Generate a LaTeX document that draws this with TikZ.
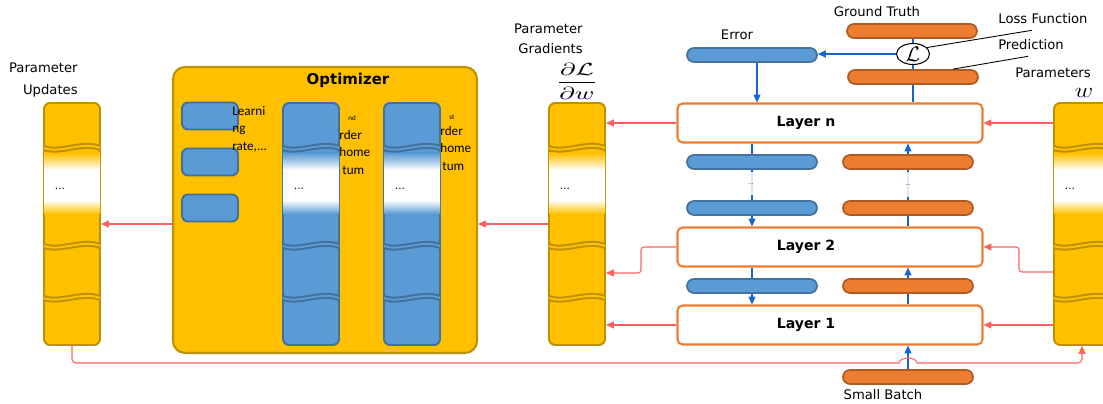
\documentclass[tikz,border=0pt]{standalone}
\usepackage{amsmath,fontspec}
\setmainfont{DejaVu Sans}
\newfontfamily\calfont{Carlito}
\usetikzlibrary{arrows.meta,shapes.geometric}
\definecolor{barfill}{RGB}{255,192,0}
\definecolor{barline}{RGB}{191,144,0}
\definecolor{bluefill}{RGB}{91,155,213}
\definecolor{blueline}{RGB}{65,113,156}
\definecolor{orangefill}{RGB}{237,125,49}
\definecolor{orangeline}{RGB}{174,90,33}
\definecolor{arrowblue}{RGB}{21,101,210}
\definecolor{arrowred}{RGB}{255,95,95}

\begin{document}
\begin{tikzpicture}[x=0.02cm,y=-0.02cm,>={Triangle[length=4.5pt,width=4pt]},
	every node/.style={font=\fontsize{7.5}{9}\selectfont},
	bar/.style={draw,rounded corners=0.12cm,line width=1.1pt,minimum width=1.12cm,minimum height=4.84cm,inner sep=0},
	pill/.style={draw,rounded corners=0.14cm,line width=1pt,minimum width=2.6cm,minimum height=0.28cm,inner sep=0},
	bpill/.style={pill,fill=bluefill,draw=blueline},
	opill/.style={pill,fill=orangefill,draw=orangeline},
	layer/.style={draw=orangefill,fill=white,line width=1.2pt,rounded corners=0.1cm,minimum width=6.1cm,minimum height=0.78cm,inner sep=0,
		label={[font=\bfseries\fontsize{8}{9}\selectfont,xshift=-0.48cm]center:#1}},
	bline/.style={draw=arrowblue,line width=0.6pt},
	barrow/.style={->,draw=arrowblue,line width=0.6pt},
	rarrow/.style={->,draw=arrowred,line width=0.6pt},
	dotbox/.style={fill=white,fill opacity=0.85,text opacity=1,inner sep=0,font=\fontsize{3}{3}\selectfont}]
	\useasboundingbox (0,0) rectangle (1103,404);

	\node[draw=barline,fill=barfill,line width=1.2pt,rounded corners=0.24cm,minimum width=6.08cm,minimum height=5.72cm] (opt) at (325,210) {};
	\node[font=\bfseries\fontsize{8.5}{10}\selectfont] (optl) at (348,80) {Optimizer};
	\foreach \y/\nm in {116/lra,162/lrb,208/lrc}
		\node[draw=blueline,fill=bluefill,line width=1.1pt,rounded corners=0.12cm,minimum width=1.12cm,minimum height=0.54cm] (\nm) at (210,\y) {};
	\node[anchor=north west,align=left,inner sep=0,font=\calfont\fontsize{7.5}{9.9}\selectfont] (lrl) at (232,106) {Learni\\ng\\rate,...};

	\foreach \x/\nm/\fc/\dc in {72/upd/barfill/barline,577/grad/barfill/barline,1082/par/barfill/barline,311/momb/bluefill/blueline,412/moma/bluefill/blueline} {
		\node[bar,fill=\fc,draw=\dc] (\nm) at (\x,224) {};
		\shade[top color=\fc,bottom color=white] (\x-28,153) rectangle (\x+28,170);
		\fill[white] (\x-28,170) rectangle (\x+28,200);
		\shade[top color=white,bottom color=\fc] (\x-28,200) rectangle (\x+28,214);
		\foreach \d in {148,246,298} {
			\draw[\dc,line width=3.4pt] (\x-28,\d) .. controls (\x-12,\d+6) and (\x+10,\d-7) .. (\x+28,\d);
			\draw[\fc,line width=1.1pt] (\x-28,\d) .. controls (\x-12,\d+6) and (\x+10,\d-7) .. (\x+28,\d);
		}
		\node[font=\fontsize{6}{6}\selectfont] at (\x-12,189) {...};
	}

	\node[anchor=base west,inner sep=0,font=\calfont\fontsize{4}{4}\selectfont] (mbs) at (348,121) {nd};
	\node[anchor=base west,inner sep=0,font=\calfont\fontsize{7.5}{9}\selectfont] (mba) at (339,140) {rder};
	\node[anchor=base west,inner sep=0,font=\calfont\fontsize{7.5}{9}\selectfont] (mbb) at (339,157) {home};
	\node[anchor=base west,inner sep=0,font=\calfont\fontsize{7.5}{9}\selectfont] (mbc) at (342,175) {tum};
	\node[anchor=base west,inner sep=0,font=\calfont\fontsize{4}{4}\selectfont] (mas) at (449,120) {st};
	\node[anchor=base west,inner sep=0,font=\calfont\fontsize{7.5}{9}\selectfont] (maa) at (440,136) {rder};
	\node[anchor=base west,inner sep=0,font=\calfont\fontsize{7.5}{9}\selectfont] (mab) at (440,153) {home};
	\node[anchor=base west,inner sep=0,font=\calfont\fontsize{7.5}{9}\selectfont] (mac) at (442,171) {tum};

	\node[anchor=east,align=right,inner sep=0,font=\fontsize{7.5}{12.5}\selectfont] (updl) at (78,80) {Parameter\\Updates};
	\node[anchor=east,align=right,inner sep=0,font=\fontsize{7.5}{11.3}\selectfont] (gradl) at (583,39) {Parameter\\Gradients};
	\node[xscale=1.5,font=\fontsize{10}{12}\selectfont] (fracl) at (577,81) {$\dfrac{\partial\mathcal{L}}{\partial w}$};
	\node (parl) at (1053,73) {Parameters};
	\node[xscale=1.2,inner sep=0,font=\fontsize{13}{14}\selectfont] (wl) at (1084,93) {$w$};

	\node[layer=Layer n] (ln) at (830,123) {};
	\node[layer=Layer 2] (l2) at (830,247) {};
	\node[layer=Layer 1] (l1) at (830,325) {};

	\node[bpill] (err) at (752,55) {};
	\node[bpill] (bn) at (752,162) {};
	\node[bpill] (bm) at (752,208) {};
	\node[bpill] (b1) at (752,286) {};
	\node[opill] (on) at (908,162) {};
	\node[opill] (om) at (908,208) {};
	\node[opill] (o1) at (908,286) {};
	\node[opill] (batch) at (908,377) {};
	\node[opill] (truth) at (912,31) {};
	\node[opill] (pred) at (913,77) {};
	\node[draw,ellipse,line width=0.6pt,fill=white,minimum width=0.66cm,minimum height=0.42cm,inner sep=0,font=\fontsize{12}{12}\selectfont] (loss) at (913,54) {$\mathcal{L}$};

	\node (errl) at (737,35) {Error};
	\node (truthl) at (877,12) {Ground Truth};
	\node (lossl) at (1043,19) {Loss Function};
	\node (predl) at (1031,45) {Prediction};
	\node (batchl) at (883,395) {Small Batch};

	\draw[line width=0.5pt] (loss.25) -- ([xshift=-0.22cm]lossl.south);
	\draw[line width=0.5pt] ([xshift=0.8cm]pred.north) -- ([xshift=-0.06cm]predl.south);

	\draw[barrow] (loss.west) -- (loss.west -| err.east);
	\draw[bline] (loss.north |- truth.south) -- (loss.north);
	\draw[bline] (loss.south) -- (loss.south |- pred.north);
	\draw[bline] (pred.south) -- (pred.south |- ln.north);
	\draw[barrow] ([xshift=0.1cm]err.south) -- ([xshift=0.1cm]err.south |- ln.north);
	\draw[bline] (ln.south -| bn) -- (bn);
	\draw[bline] (bn) -- (bm);
	\draw[barrow] (bm) -- (bm |- l2.north);
	\draw[bline] (l2.south -| b1) -- (b1);
	\draw[barrow] (b1) -- (b1 |- l1.north);
	\draw[barrow] (batch) -- (batch |- l1.south);
	\draw[bline] (l1.north -| o1) -- (o1);
	\draw[barrow] (o1) -- (o1 |- l2.south);
	\draw[bline] (l2.north -| om) -- (om);
	\draw[bline] (om) -- (on);
	\draw[barrow] (on) -- (on |- ln.south);
	\node[dotbox,minimum width=0.72cm,minimum height=0.46cm] (bdots) at (751,184) {...};
	\node[dotbox,minimum width=0.76cm,minimum height=0.5cm] (odots) at (908,185) {...};

	\draw[rarrow] (ln.east -| par.west) -- (ln.east);
	\draw[rarrow,rounded corners=0.06cm] (par.west |- 0,272) -| (1019,247) -- (l2.east);
	\draw[rarrow] (l1.east -| par.west) -- (l1.east);
	\draw[rarrow] (ln.west) -- (ln.west -| grad.east);
	\draw[rarrow,rounded corners=0.06cm] (l2.west) -| (641,273) -- (grad.east |- 0,273);
	\draw[rarrow] (l1.west) -- (l1.west -| grad.east);
	\draw[rarrow] (grad.west) -- (grad.west -| opt.east);
	\draw[rarrow] (opt.west |- upd.east) -- (upd.east);
	\draw[rarrow] (upd.south) [rounded corners=0.08cm] -- (upd.south |- 0,363) [sharp corners] -- (899,363)
		arc[start angle=180,end angle=0,x radius=0.18cm,y radius=0.1cm] [rounded corners=0.08cm] -- (par.south |- 0,363) -- (par.south);
\end{tikzpicture}
\end{document}
